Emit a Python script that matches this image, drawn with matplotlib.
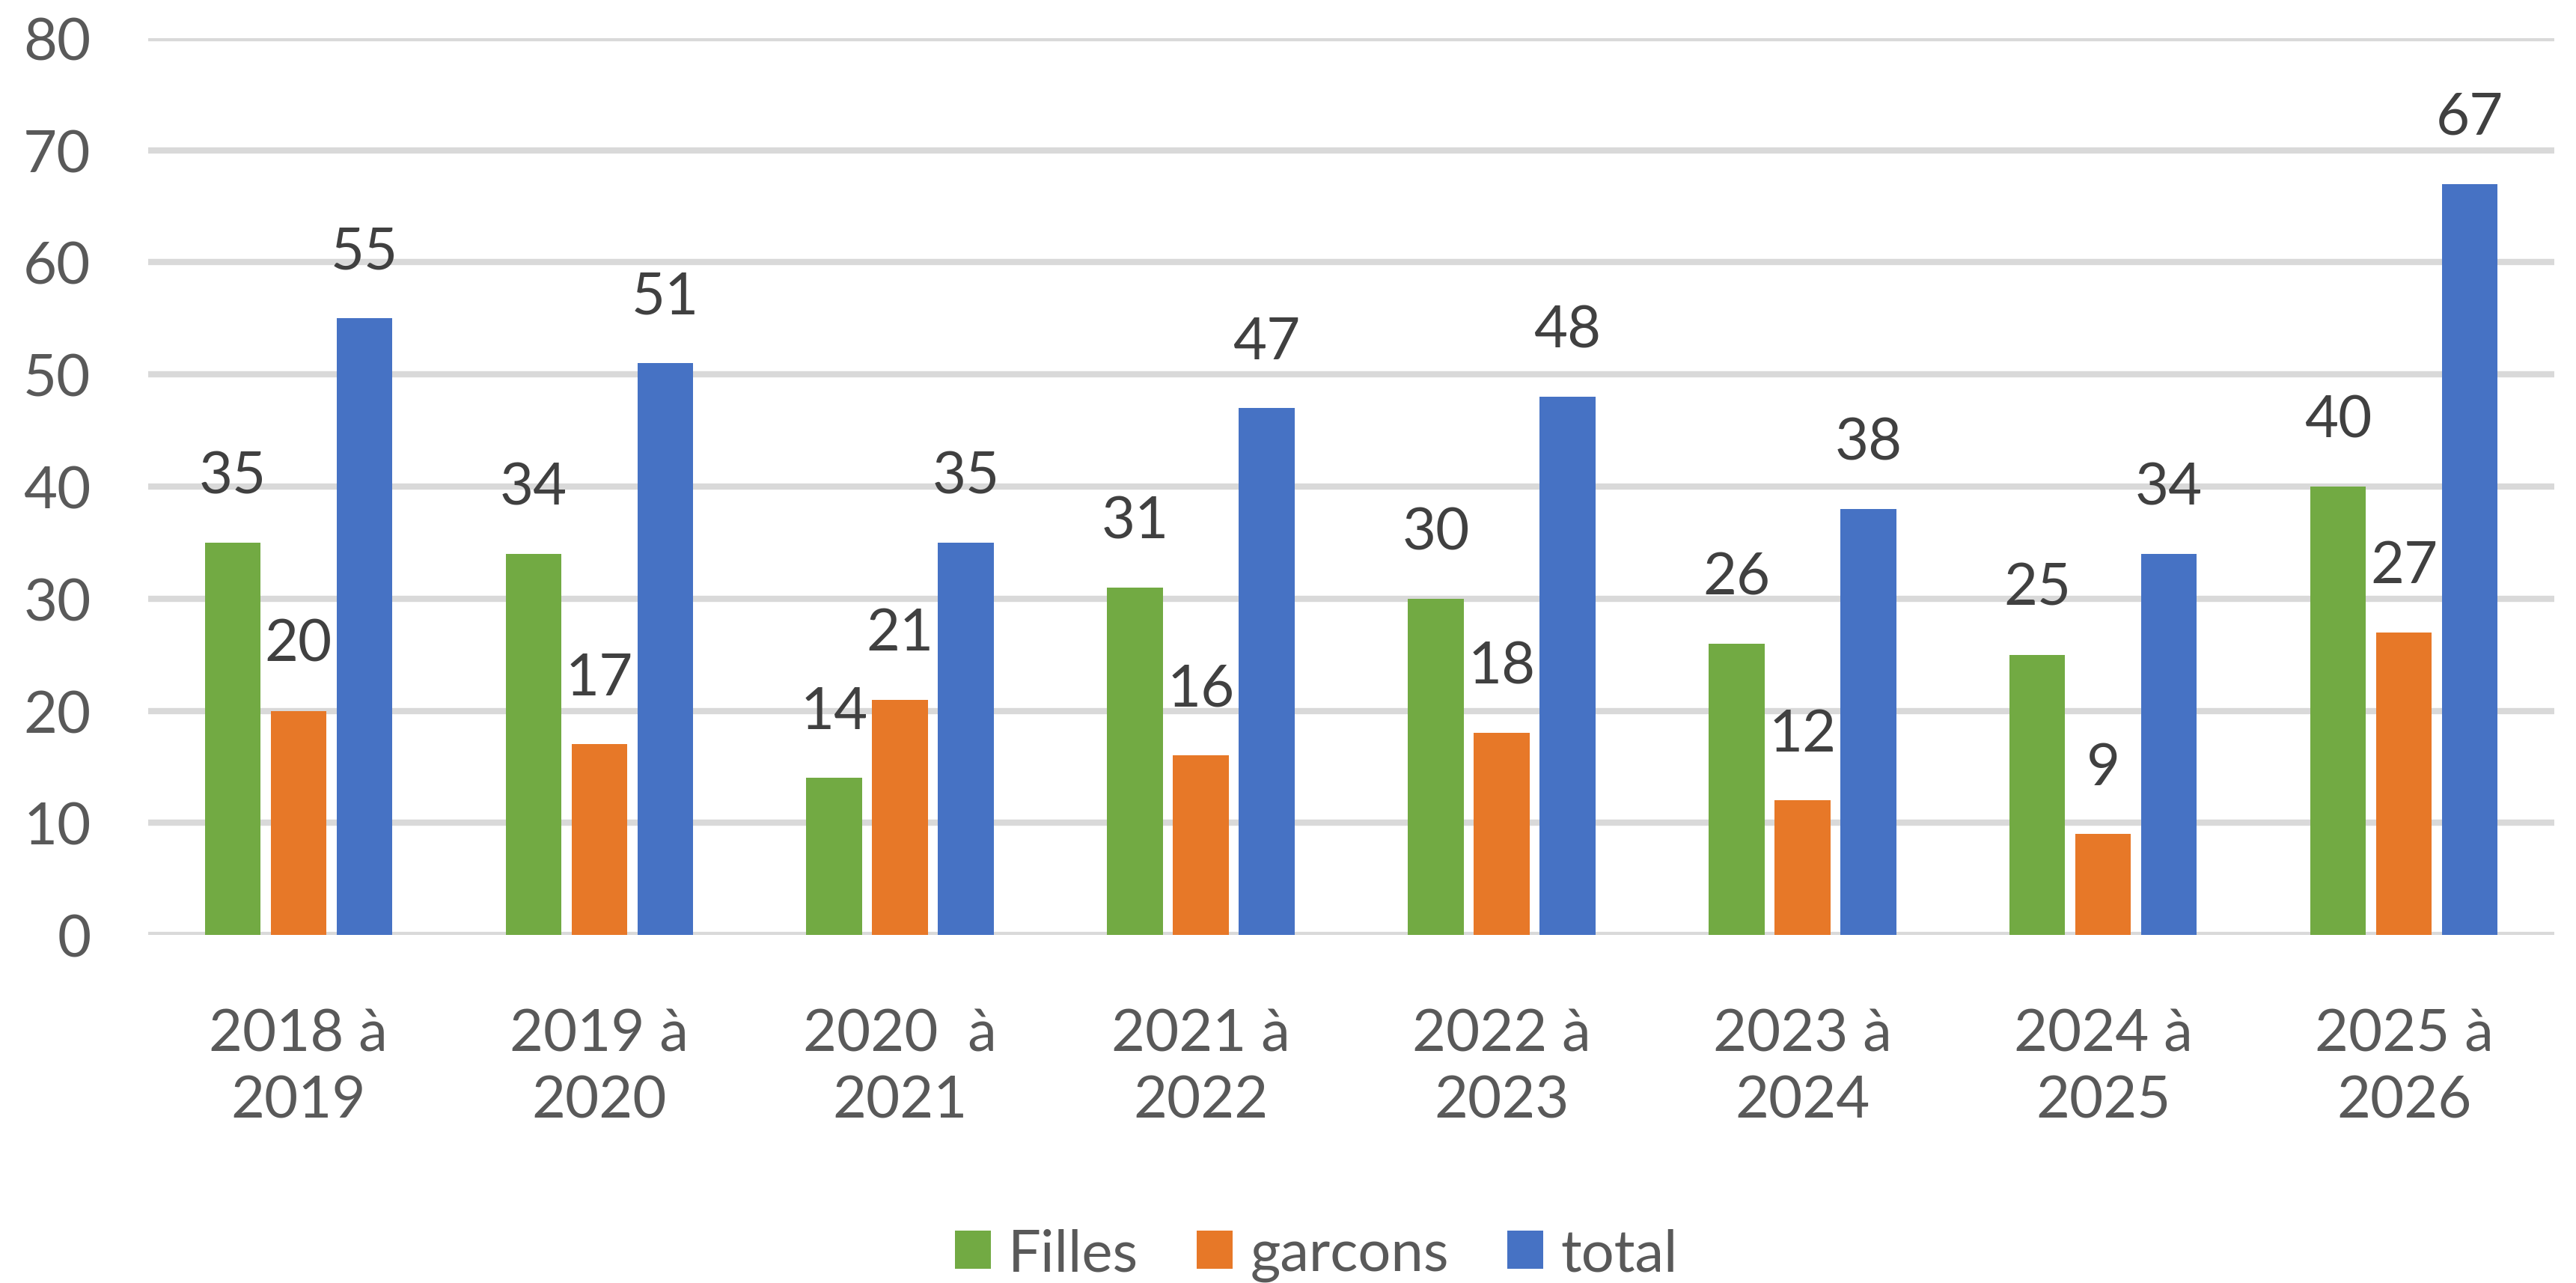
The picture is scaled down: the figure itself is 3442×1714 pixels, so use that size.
import matplotlib
matplotlib.use("Agg")
import matplotlib.pyplot as plt
import numpy as np

plt.rcParams['font.family'] = ['Lato', 'DejaVu Sans']

# data
periods = ["2018 à\n2019", "2019 à\n2020", "2020  à\n2021", "2021 à\n2022",
           "2022 à\n2023", "2023 à\n2024", "2024 à\n2025", "2025 à\n2026"]
filles = [35, 34, 14, 31, 30, 26, 25, 40]
garcons = [20, 17, 21, 16, 18, 12, 9, 27]
total = [55, 51, 35, 47, 48, 38, 34, 67]
series_names = ["Filles", "garcons", "total"]
colors = ["#72AA43", "#E77828", "#4672C4"]

fig = plt.figure(figsize=(34.42, 17.15), dpi=100)
ax = fig.add_axes([0.0575, 0.2711, 0.9341, 0.6986])

x = np.arange(len(periods))
step = 0.219
width = 0.185
for k, (vals, name, col) in enumerate(zip([filles, garcons, total], series_names, colors)):
    bars = ax.bar(x + (k - 1) * step, vals, width, color=col, label=name, zorder=3)
    for b, v in zip(bars, vals):
        ax.annotate(str(v), (b.get_x() + b.get_width() / 2, v), xytext=(0, 48),
                    textcoords="offset points", ha="center", va="baseline",
                    fontsize=56, color="#404040", zorder=4)

ax.set_ylim(0, 80)
ax.set_xlim(-0.5, len(periods) - 0.5)
ax.set_yticks(range(0, 81, 10))
ax.set_xticks(x)
ax.set_xticklabels(periods, linespacing=1.32)
ax.yaxis.grid(True, color="#D9D9D9", linewidth=6, zorder=0)
ax.set_axisbelow(True)
for s in ax.spines.values():
    s.set_visible(False)
ax.tick_params(axis="both", length=0, labelsize=56, colors="#595959")
ax.tick_params(axis="y", pad=55)
ax.tick_params(axis="x", pad=70)

fig.legend(loc="center", bbox_to_anchor=(0.511, 0.022), ncol=3, frameon=False,
           fontsize=56, labelcolor="#595959", handlelength=0.62, handleheight=0.62,
           handletextpad=0.3, columnspacing=1.0)

fig.savefig("out.png", dpi=100)
